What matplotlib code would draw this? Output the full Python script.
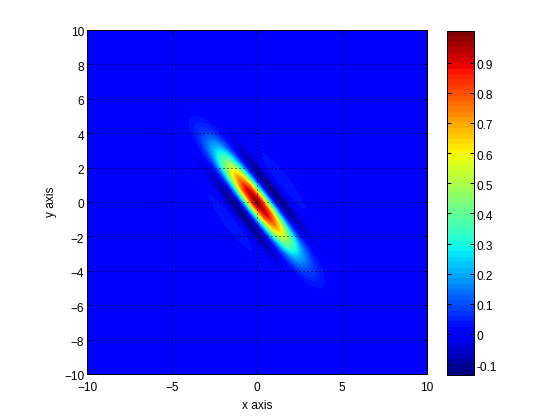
import numpy as np
import matplotlib
matplotlib.use("Agg")
import matplotlib.pyplot as plt
from matplotlib.colors import ListedColormap, BoundaryNorm
from matplotlib.cm import ScalarMappable
from matplotlib.transforms import ScaledTranslation

# Values, in the ridge frame (u along, v across the ridge)
u_along = [0, 1, 2, 3, 4, 5, 6, 7, 8]
v_across = [0, .2, .4, .6, .8, 1, 1.2, 1.4, 1.6, 1.8, 2, 2.2, 2.5, 3]
field = [
    [1.00, .88, .58, .25, -.01, -.12, -.135, -.07, .0, .035, .04, .03, .01, 0],
    [.90, .79, .52, .22, -.01, -.11, -.12, -.06, .0, .03, .035, .026, .008, 0],
    [.67, .59, .39, .17, -.005, -.08, -.09, -.045, .0, .02, .025, .018, .005, 0],
    [.42, .38, .26, .12, .01, -.04, -.05, -.028, .0, .012, .014, .01, .003, 0],
    [.21, .19, .14, .075, .025, -.005, -.02, -.014, .0, .005, .006, .004, .001, 0],
    [.085, .078, .06, .035, .015, .003, -.005, -.005, 0, .001, .002, .001, 0, 0],
    [.03, .028, .022, .014, .007, .002, 0, 0, 0, 0, 0, 0, 0, 0],
    [.008, .007, .006, .004, .002, 0, 0, 0, 0, 0, 0, 0, 0, 0],
    [0, 0, 0, 0, 0, 0, 0, 0, 0, 0, 0, 0, 0, 0],
]
ridge_dir = (0.617, -0.787)
x_ticks = [-10, -5, 0, 5, 10]
y_ticks = [-10, -8, -6, -4, -2, 0, 2, 4, 6, 8, 10]
cbar_ticks = [-.1, 0, .1, .2, .3, .4, .5, .6, .7, .8, .9]
cbar_labels = ["-0.1", "0", "0.1", "0.2", "0.3", "0.4", "0.5", "0.6", "0.7", "0.8", "0.9"]
z_min, z_max = -0.136, 1.005

plt.rcParams["font.family"] = ["Liberation Sans", "DejaVu Sans"]
plt.rcParams["font.size"] = 8.6
plt.rcParams["lines.scale_dashes"] = False

q = np.array(field)
half = np.vstack([q[:0:-1], q])
full = np.hstack([half[:, :0:-1], half])
full = np.pad(full, 1, constant_values=0.0)
ua = np.array(u_along, float)
va = np.array(v_across, float)
uu = np.r_[-30, -ua[:0:-1], ua, 30]
vv = np.r_[-30, -va[:0:-1], va, 30]
U, V = np.meshgrid(uu, vv, indexing="ij")
dx, dy = ridge_dir
X = U * dx + V * (-dy)
Y = U * dy + V * dx

levels = np.linspace(z_min, z_max, 65)
jet = ListedColormap(plt.get_cmap("jet")(np.linspace(0, 1, 64)))
norm = BoundaryNorm(levels, 64)

fig = plt.figure(figsize=(5.6, 4.2), dpi=100)
ax = fig.add_axes([87 / 560, 46 / 420, 340 / 560, 344 / 420])
ax.contourf(X, Y, full, levels=levels, cmap=jet, norm=norm, antialiased=False, zorder=1)
ax.set_xlim(-10, 10)
ax.set_ylim(-10, 10)
ax.set_xticks(x_ticks)
ax.set_yticks(y_ticks)
ax.tick_params(direction="in", length=2.5, width=0.72, top=True, right=True)
ax.tick_params(axis="x", pad=6)
ax.tick_params(axis="y", pad=2)
ax.grid(True, color="k", linewidth=0.72, linestyle=(0, (0.72, 2.16)), zorder=2)
ax.set_axisbelow(False)
for s in ax.spines.values():
    s.set_linewidth(0.72)
ax.text(0.5, -32 / 344, "x axis", transform=ax.transAxes, ha="center", va="center")
ax.text(-36 / 340, 0.5, "y axis", transform=ax.transAxes, ha="center", va="center", rotation=90)

cax = fig.add_axes([447.3 / 560, 45 / 420, 26.4 / 560, 344 / 420])
cb = fig.colorbar(ScalarMappable(norm=norm, cmap=jet), cax=cax, ticks=cbar_ticks, spacing="proportional", drawedges=False)
cb.ax.set_yticklabels(cbar_labels)
cb.ax.minorticks_off()
cb.ax.tick_params(direction="in", length=3.0, width=0.72, left=True, right=True, pad=2.2)
cb.outline.set_linewidth(0.72)

down = ScaledTranslation(0, -2 / 100, fig.dpi_scale_trans)
for lab in list(ax.get_yticklabels()) + list(cb.ax.get_yticklabels()):
    lab.set_transform(lab.get_transform() + down)

fig.savefig("out.png", dpi=100)
